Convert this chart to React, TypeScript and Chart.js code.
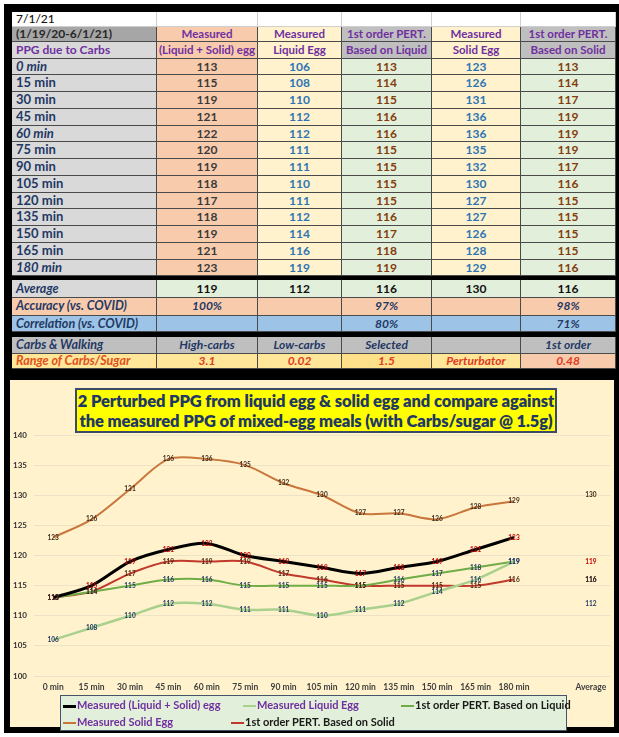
import React, { useEffect, useRef } from 'react';
import { Chart, registerables } from 'chart.js';
Chart.register(...registerables);

const FONT = 'Lato, "Open Sans", sans-serif';

// ---------- data ----------
const times = ['0 min', '15 min', '30 min', '45 min', '60 min', '75 min', '90 min', '105 min', '120 min', '135 min', '150 min', '165 min', '180 min'];
const xLabels = [...times, '', 'Average'];
const mixed = [113, 115, 119, 121, 122, 120, 119, 118, 117, 118, 119, 121, 123];
const liquid = [106, 108, 110, 112, 112, 111, 111, 110, 111, 112, 114, 116, 119];
const pertLiquid = [113, 114, 115, 116, 116, 115, 115, 115, 115, 116, 117, 118, 119];
const solid = [123, 126, 131, 136, 136, 135, 132, 130, 127, 127, 126, 128, 129];
const pertSolid = [113, 114, 117, 119, 119, 119, 117, 116, 115, 115, 115, 115, 116];
const averages = [119, 112, 116, 130, 116];
const accuracy = ['100%', '', '97%', '', '98%'];
const correlation = ['', '', '80%', '', '71%'];
const carbsWalking = ['High-carbs', 'Low-carbs', 'Selected', '', '1st order'];
const carbsRange = ['3.1', '0.02', '1.5', 'Perturbator', '0.48'];
const headers1 = ['Measured', 'Measured', '1st order PERT.', 'Measured', '1st order PERT.'];
const headers2 = ['(Liquid + Solid) egg', 'Liquid Egg', 'Based on Liquid', 'Solid Egg', 'Based on Solid'];
const seriesNames = ['Measured (Liquid + Solid) egg', 'Measured Liquid Egg', '1st order PERT. Based on Liquid', 'Measured Solid Egg', '1st order PERT. Based on Solid'];
const dateLabel = '7/1/21';
const periodLabel = '(1/19/20-6/1/21)';
const tableTitle = 'PPG due to Carbs';
const titleLines = ['2 Perturbed PPG from liquid egg & solid egg and compare against', 'the measured PPG of mixed-egg meals (with Carbs/sugar @ 1.5g)'];

// ---------- styling ----------
const colX = [12, 157, 258, 342, 432, 521, 616];
const valBg = ['#f8cbad', '#fff2cc', '#e2efda', '#fff2cc', '#e2efda'];
const valColor = ['#3a3a3a', '#2e75b6', '#843c0c', '#2e75b6', '#843c0c'];
const headBg = ['#f8cbad', '#fff2cc', '#bfbfbf', '#fff2cc', '#bfbfbf'];
const lineColors = ['#000000', '#a9d08e', '#70ad47', '#c8763c', '#c0392b'];
const lineWidths = [3, 2.5, 2, 2, 2];
const labelColors = ['#c00000', '#1f3864', '#1f3864', '#3b2a1e', '#4a2511'];
const legendText = ['#7030a0', '#7030a0', '#1a1a1a', '#7030a0', '#1a1a1a'];

type CellProps = {
  x: number; y: number; w: number; h: number; bg: string; color?: string; text?: string;
  italic?: boolean; weight?: number; align?: 'left' | 'center'; size?: number; border?: string;
};

function Cell({ x, y, w, h, bg, color = '#000', text = '', italic = false, weight = 700, align = 'center', size = 12, border = '#4a4a4a' }: CellProps) {
  return (
    <div style={{
      position: 'absolute', left: x, top: y, width: w, height: h, background: bg,
      boxSizing: 'border-box', borderRight: `1px solid ${border}`, borderBottom: `1px solid ${border}`,
      color, fontFamily: FONT, fontWeight: weight, fontStyle: italic ? 'italic' : 'normal', fontSize: size,
      lineHeight: `${h - 1}px`, textAlign: align, paddingLeft: align === 'left' ? 4 : 0, whiteSpace: 'nowrap', overflow: 'hidden',
    }}>{text}</div>
  );
}

function Row({ y, h, label, labelBg, labelColor, labelItalic, labelSize = 12.5, cells, bgs, colors, italic = false, size = 12, weight = 700, border }: any) {
  return (
    <>
      <Cell x={colX[0]} y={y} w={colX[1] - colX[0]} h={h} bg={labelBg} color={labelColor} text={label} italic={labelItalic} align="left" size={labelSize} border={border} weight={weight} />
      {cells.map((t: string, i: number) => (
        <Cell key={i} x={colX[i + 1]} y={y} w={colX[i + 2] - colX[i + 1]} h={h} bg={bgs[i]} color={colors[i]} text={t} italic={italic} size={size} border={border} weight={weight} />
      ))}
    </>
  );
}

export default function App() {
  const ref = useRef<HTMLCanvasElement>(null);

  useEffect(() => {
    document.body.style.margin = '0';
    const seriesList = [mixed, liquid, pertLiquid, solid, pertSolid];
    const labelPlugin = {
      id: 'pointLabels',
      afterDatasetsDraw(chart: any) {
        const ctx = chart.ctx;
        ctx.save();
        ctx.font = `bold 6.5px ${FONT}`;
        ctx.textAlign = 'center';
        ctx.textBaseline = 'middle';
        chart.data.datasets.forEach((ds: any, di: number) => {
          const meta = chart.getDatasetMeta(di);
          meta.data.forEach((el: any, i: number) => {
            const v = ds.data[i];
            if (v == null) return;
            ctx.fillStyle = labelColors[di];
            ctx.fillText(String(v), el.x, el.y);
          });
        });
        ctx.restore();
      },
    };
    const chart = new Chart(ref.current as HTMLCanvasElement, {
      type: 'line',
      data: {
        labels: xLabels,
        datasets: seriesList.map((s, i) => ({
          label: seriesNames[i],
          data: [...s, null, averages[i]],
          borderColor: lineColors[i],
          backgroundColor: lineColors[i],
          borderWidth: lineWidths[i],
          pointRadius: 0,
          tension: 0.3,
          spanGaps: false,
          fill: false,
        })),
      },
      options: {
        responsive: false,
        animation: false,
        devicePixelRatio: 1,
        layout: { padding: { top: 55, right: 4, left: 3, bottom: 0 } },
        plugins: { legend: { display: false }, tooltip: { enabled: false }, title: { display: false } },
        scales: {
          x: {
            offset: true,
            grid: { display: false, offset: true, drawTicks: false },
            border: { display: false },
            ticks: { font: { family: FONT, size: 8.5, weight: 'bold' }, color: '#404040', maxRotation: 0, autoSkip: false, padding: 6 },
            afterFit: (s: any) => { s.height = 51; },
          },
          y: {
            min: 100, max: 140,
            ticks: { stepSize: 5, font: { family: FONT, size: 8, weight: 'bold' }, color: '#333333', crossAlign: 'far', padding: 4 },
            grid: { color: '#ece2c6', drawTicks: false },
            border: { display: false },
            afterFit: (s: any) => { s.width = 21; },
          },
        },
      } as any,
      plugins: [labelPlugin],
    });
    return () => chart.destroy();
  }, []);

  const dataTop = 58.5;
  const rowH = 16.75;
  const italicRows = [0, 4, 12];
  const legendSlots = [[0, 2, 0], [1, 182, 0], [2, 340, 0], [3, 2, 1], [4, 170, 1]];

  return (
    <div style={{ position: 'relative', width: 619, height: 737, background: '#fff', overflow: 'hidden', fontFamily: FONT }}>
      <div style={{ position: 'absolute', left: 4, top: 4, width: 615, height: 729, background: '#000' }} />

      <Row y={12} h={15} label={dateLabel} labelBg="#fff" labelColor="#111" cells={['', '', '', '', '']} bgs={['#fff', '#fff', '#fff', '#fff', '#fff']} colors={['#000', '#000', '#000', '#000', '#000']} weight={500} labelSize={12} border="#cfcfcf" />
      <Row y={27} h={15} label={periodLabel} labelBg="#a6a6a6" labelColor="#262626" cells={headers1} bgs={headBg} colors={['#7030a0', '#7030a0', '#7030a0', '#7030a0', '#7030a0']} size={11.5} labelSize={12} />
      <Row y={42} h={16.5} label={tableTitle} labelBg="#d9d9d9" labelColor="#7030a0" cells={headers2} bgs={headBg} colors={['#7030a0', '#7030a0', '#7030a0', '#7030a0', '#7030a0']} size={11.5} labelSize={12} />
      {times.map((t, r) => (
        <Row key={t} y={dataTop + r * rowH} h={rowH} label={t} labelBg="#d9d9d9" labelColor="#1f3864" labelItalic={italicRows.includes(r)} labelSize={13}
          cells={[mixed[r], liquid[r], pertLiquid[r], solid[r], pertSolid[r]].map(String)} bgs={valBg} colors={valColor} />
      ))}
      <Row y={280} h={18} label="Average" labelBg="#d9d9d9" labelColor="#1f3864" labelItalic cells={averages.map(String)} bgs={['#e2efda', '#e2efda', '#e2efda', '#e2efda', '#e2efda']} colors={['#111', '#111', '#111', '#111', '#111']} />
      <Row y={298} h={17.5} label="Accuracy (vs. COVID)" labelBg="#f8cbad" labelColor="#1f3864" labelItalic cells={accuracy} bgs={['#f8cbad', '#f8cbad', '#f8cbad', '#f8cbad', '#f8cbad']} colors={['#1f3864', '#1f3864', '#1f3864', '#1f3864', '#1f3864']} italic />
      <Row y={315.5} h={16.5} label="Correlation (vs. COVID)" labelBg="#9dc3e6" labelColor="#1f3864" labelItalic cells={correlation} bgs={['#9dc3e6', '#9dc3e6', '#9dc3e6', '#9dc3e6', '#9dc3e6']} colors={['#1f3864', '#1f3864', '#1f3864', '#1f3864', '#1f3864']} italic />
      <Row y={337} h={16.5} label="Carbs & Walking" labelBg="#bfbfbf" labelColor="#1f3864" labelItalic cells={carbsWalking} bgs={['#bfbfbf', '#bfbfbf', '#bfbfbf', '#bfbfbf', '#bfbfbf']} colors={['#1f3864', '#1f3864', '#1f3864', '#1f3864', '#1f3864']} italic />
      <Row y={353.5} h={15.5} label="Range of Carbs/Sugar" labelBg="#ffe699" labelColor="#e0501c" labelItalic cells={carbsRange} bgs={['#ffe699', '#ffe699', '#ffe08a', '#ffe699', '#f8cbad']} colors={['#e03a1e', '#e03a1e', '#e03a1e', '#e03a1e', '#e03a1e']} italic />

      <div style={{ position: 'absolute', left: 10, top: 380, width: 604, height: 347, background: '#fff2cc' }}>
        <canvas ref={ref} width={604} height={347} style={{ display: 'block', width: 604, height: 347 }} />
        <div style={{
          position: 'absolute', left: 65, top: 8, width: 482, height: 45, boxSizing: 'border-box', background: '#ffff00',
          border: '2px solid #3b4a66', color: '#1f3864', fontFamily: FONT, fontWeight: 800, fontSize: 16.5, lineHeight: '20px', textAlign: 'center', paddingTop: 1,
          whiteSpace: 'nowrap', letterSpacing: -0.1,
        }}>
          {titleLines.map((l) => <div key={l}>{l}</div>)}
        </div>
        <div style={{
          position: 'absolute', left: 50, top: 315, width: 507, height: 36, boxSizing: 'border-box', background: '#e2efda',
          border: '1.5px solid #44546a', fontFamily: FONT, fontWeight: 700, fontSize: 11,
        }}>
          {legendSlots.map(([i, lx, row]) => (
            <div key={i} style={{ position: 'absolute', left: lx, top: row === 0 ? 2 : 19, height: 14, lineHeight: '14px', whiteSpace: 'nowrap', color: legendText[i] }}>
              <span style={{ display: 'inline-block', width: 13, height: lineWidths[i] >= 3 ? 3 : 2, background: lineColors[i], verticalAlign: 'middle', marginRight: 1 }} />
              {seriesNames[i]}
            </div>
          ))}
        </div>
      </div>
    </div>
  );
}
